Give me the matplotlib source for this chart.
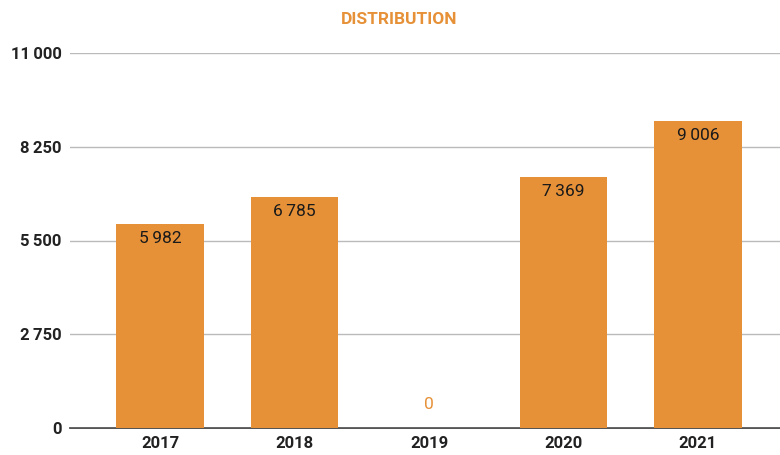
import matplotlib.pyplot as plt
import numpy as np

years = ['2017', '2018', '2019', '2020', '2021']
values = [5982, 6785, 0, 7369, 9006]
yticks = [0, 2750, 5500, 8250, 11000]

orange = '#E69138'
plt.rcParams['font.family'] = ['Roboto', 'DejaVu Sans']

def fmt(v):
    return '{:,}'.format(v).replace(',', '\u2009')

fig = plt.figure(figsize=(7.8, 4.55), dpi=100)
ax = fig.add_axes([70/780, 27/455, 710/780, 375/455])

x = np.arange(len(years))
ax.bar(x, values, width=0.65, color=orange, zorder=2)

for xi, v in zip(x, values):
    if v > 0:
        ax.text(xi, v - 430, fmt(v), ha='center', va='center', fontsize=12.5, color='#1a1a1a', zorder=3)
    else:
        ax.text(xi, 700, fmt(v), ha='center', va='center', fontsize=12.5, color=orange, zorder=3)

ax.set_xlim(-0.67, 4.61)
ax.set_ylim(0, 11000)
ax.set_yticks(yticks)
ax.set_yticklabels([fmt(t) for t in yticks], fontsize=12, fontweight='bold', color='#222222')
ax.set_xticks(x)
ax.set_xticklabels(years, fontsize=12, fontweight='bold', color='#222222')
ax.tick_params(axis='y', length=0, pad=6)
ax.tick_params(axis='x', length=0, pad=6)
ax.grid(axis='y', color='#bbbbbb', linewidth=1, zorder=0)
for s in ['top', 'right', 'left']:
    ax.spines[s].set_visible(False)
ax.spines['bottom'].set_color('#333333')
ax.spines['bottom'].set_linewidth(1.2)
ax.spines['bottom'].set_zorder(1)

fig.text(399/780, 1 - 19/455, 'DISTRIBUTION', ha='center', va='center', fontsize=12.5, fontweight='bold', color=orange)

fig.savefig('out.png', dpi=100)
